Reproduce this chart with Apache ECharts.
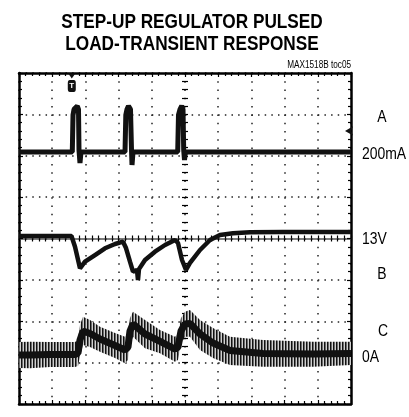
<!DOCTYPE html>
<html>
<head>
<meta charset="utf-8">
<script src="https://cdn.jsdelivr.net/npm/echarts@6/dist/echarts.min.js"></script>
<style>
html, body { margin: 0; padding: 0; background: #fff; }
#scope { width: 409px; height: 417px; }
</style>
</head>
<body>
<div id="scope"></div>
<script>
// all values in scope divisions: x 0..10, y 0..8 from the bottom

// trace A, load current pulses
var aX = [0, 1.605, 1.627, 1.657, 1.756, 1.792, 1.807, 1.837, 1.867,
          3.193, 3.217, 3.253, 3.298, 3.358, 3.389, 3.404, 3.434,
          4.780, 4.804, 4.849, 4.901, 4.940, 4.961, 4.985, 5.015, 10];
var aY = [6.091, 6.091, 6.985, 7.121, 7.202, 7.121, 6.139, 5.825, 6.091,
          6.091, 6.985, 7.121, 7.202, 7.121, 6.139, 5.776, 6.091,
          6.091, 6.985, 7.121, 7.202, 7.121, 6.139, 5.897, 6.091, 6.091];

// trace B, output voltage (13V)
var bX = [0, 1.58, 1.687, 1.837, 1.988, 2.289, 2.590, 2.892, 3.133, 3.223, 3.343, 3.434,
          3.554, 3.584, 3.614, 3.795, 4.096, 4.398, 4.699, 4.789, 4.910, 5.030, 5.151,
          5.452, 5.753, 6.054, 6.446, 6.958, 7.952, 10];
var bY = [4.060, 4.060, 3.802, 3.280, 3.439, 3.601, 3.763, 3.867, 3.923, 3.770, 3.439, 3.198,
          3.239, 2.997, 3.260, 3.480, 3.681, 3.843, 3.964, 3.891, 3.480, 3.239, 3.408,
          3.722, 3.964, 4.085, 4.126, 4.150, 4.157, 4.157];

// trace C, inductor current: ripple envelope and its dark core
var cX   = [0, 0.331, 0.934, 1.687, 1.777, 1.837, 1.928, 2.139, 2.440, 2.892, 3.193, 3.283, 3.343, 3.434,
            3.795, 4.247, 4.699, 4.789, 4.880, 5.000, 5.151, 5.452, 5.843, 6.355, 7.349, 8.855, 10];
var cTop = [1.498, 1.506, 1.498, 1.498, 1.547, 1.909, 2.110, 2.030, 1.868, 1.716, 1.627, 1.692, 2.079, 2.231,
            2.030, 1.789, 1.627, 1.692, 2.079, 2.231, 2.272, 2.030, 1.837, 1.627, 1.547, 1.506, 1.506];
var cBot = [0.870, 0.863, 0.894, 0.894, 0.918, 1.160, 1.426, 1.378, 1.264, 1.112, 0.984, 1.063, 1.450, 1.627,
            1.346, 1.225, 1.022, 1.063, 1.450, 1.627, 1.627, 1.305, 1.112, 0.943, 0.902, 0.902, 0.943];
var cMid = [1.184, 1.184, 1.196, 1.196, 1.233, 1.547, 1.764, 1.704, 1.571, 1.414, 1.305, 1.378, 1.764, 1.934,
            1.692, 1.511, 1.329, 1.378, 1.764, 1.934, 1.946, 1.692, 1.474, 1.293, 1.221, 1.208, 1.221];

// trigger / ground markers
var trigPos = [1.59, 7.686];
var trigTip = [1.59, 7.93];
var gndA = [9.82, 6.6];

function pairs(xs, ys) {
    var out = [];
    for (var i = 0; i < xs.length; i++) out.push([xs[i], ys[i]]);
    return out;
}
// one quad per step of the ripple envelope
var cSegs = [];
for (var i = 0; i + 1 < cX.length; i++) {
    cSegs.push([cX[i], cTop[i], cBot[i], cX[i + 1], cTop[i + 1], cBot[i + 1]]);
}

// vertical ripple hatch for the switching current
var hatch = document.createElement('canvas');
hatch.width = 3; hatch.height = 2;
var hc = hatch.getContext('2d');
hc.fillStyle = '#d0d0d0'; hc.fillRect(0, 0, 3, 2);
hc.fillStyle = '#111'; hc.fillRect(0, 0, 1, 2);
hc.fillStyle = '#6a6a6a'; hc.fillRect(1, 0, 1, 2);

var tick = { color: '#000', width: 1.2 };
var frame = { color: '#000', width: 2.5 };

function axis(dim, pos, o) {
    var a = {
        type: 'value', min: 0, max: dim === 'x' ? 10 : 8, interval: 1,
        position: pos, offset: o.offset || 0,
        axisLine: { show: !!o.line, onZero: false, lineStyle: o.line || frame },
        axisTick: { show: true, inside: o.inside !== false, length: o.len || 4, lineStyle: tick },
        minorTick: { show: true, splitNumber: 5, length: o.minLen || 3, lineStyle: tick },
        splitLine: { show: false },
        axisLabel: { show: false }
    };
    if (o.split) a.splitLine = { show: true, lineStyle: o.split };
    return a;
}

var font = '"Liberation Sans", Arial, sans-serif';
function label(text, x, y, align, size, bold) {
    return {
        type: 'text', x: x, y: y, scaleX: 0.82,
        style: { text: text, font: (bold ? 'bold ' : '') + size + 'px ' + font, fill: '#000', align: align, verticalAlign: 'middle' }
    };
}

var dom = document.getElementById('scope');
var myChart = echarts.init(dom);
var option = {
    backgroundColor: '#fff',
    animation: false,
    grid: { left: 19, top: 73, width: 332, height: 331 },
    xAxis: [
        axis('x', 'bottom', { line: frame, split: { color: '#222', width: 1.5, type: [1.5, 6.775] } }),
        axis('x', 'top', { line: frame }),
        axis('x', 'bottom', { offset: -165.5, line: { color: '#555', width: 1.5 }, len: 3, minLen: 3 }),
        axis('x', 'bottom', { offset: -165.5, inside: false, len: 3, minLen: 3 })
    ],
    yAxis: [
        axis('y', 'left', { line: frame, split: { color: '#222', width: 1.5, type: [1.5, 5.14] } }),
        axis('y', 'right', { line: frame }),
        axis('y', 'left', { offset: -166, len: 3, minLen: 3 }),
        axis('y', 'left', { offset: -166, inside: false, len: 3, minLen: 3 })
    ],
    graphic: [
        label('STEP-UP REGULATOR PULSED', 192, 22, 'center', 21, true),
        label('LOAD-TRANSIENT RESPONSE', 192, 44, 'center', 21, true),
        label('MAX1518B toc05', 351, 65, 'right', 10, false),
        label('A', 382, 117, 'center', 17, false),
        label('200mA', 362, 154, 'left', 17, false),
        label('13V', 362, 239, 'left', 17, false),
        label('B', 382, 274, 'center', 17, false),
        label('C', 383, 331, 'center', 17, false),
        label('0A', 362, 357, 'left', 17, false)
    ],
    series: [
        {
            name: 'C ripple', type: 'custom', data: cSegs, silent: true,
            encode: { x: [0, 3], y: [1, 2, 4, 5] },
            renderItem: function (params, api) {
                var p0t = api.coord([api.value(0), api.value(1)]);
                var p1t = api.coord([api.value(3), api.value(4)]);
                var p1b = api.coord([api.value(3), api.value(5)]);
                var p0b = api.coord([api.value(0), api.value(2)]);
                return {
                    type: 'polygon',
                    shape: { points: [p0t, p1t, p1b, p0b] },
                    style: { fill: { image: hatch, repeat: 'repeat' } }
                };
            }
        },
        {
            name: 'C', type: 'line', data: pairs(cX, cMid), symbol: 'none',
            lineStyle: { color: '#111', width: 7 }
        },
        {
            name: 'B', type: 'line', data: pairs(bX, bY), symbol: 'none',
            lineStyle: { color: '#111', width: 4.5 }
        },
        {
            name: 'A', type: 'line', data: pairs(aX, aY), symbol: 'none',
            lineStyle: { color: '#111', width: 5 },
            markPoint: {
                silent: true,
                data: [
                    { coord: trigPos, symbol: 'roundRect', symbolSize: [8, 12], itemStyle: { color: '#111' },
                      label: { show: true, formatter: 'T', color: '#fff', fontSize: 8, fontWeight: 'bold', position: 'inside' } },
                    { coord: trigTip, symbol: 'triangle', symbolSize: [7, 5], symbolRotate: 180, itemStyle: { color: '#111' }, label: { show: false } },
                    { coord: gndA, symbol: 'arrow', symbolSize: [7, 8], symbolRotate: 90, itemStyle: { color: '#111' }, label: { show: false } }
                ]
            }
        }
    ]
};
if (option && typeof option === "object") {
    myChart.setOption(option, true);
}
</script>
</body>
</html>
